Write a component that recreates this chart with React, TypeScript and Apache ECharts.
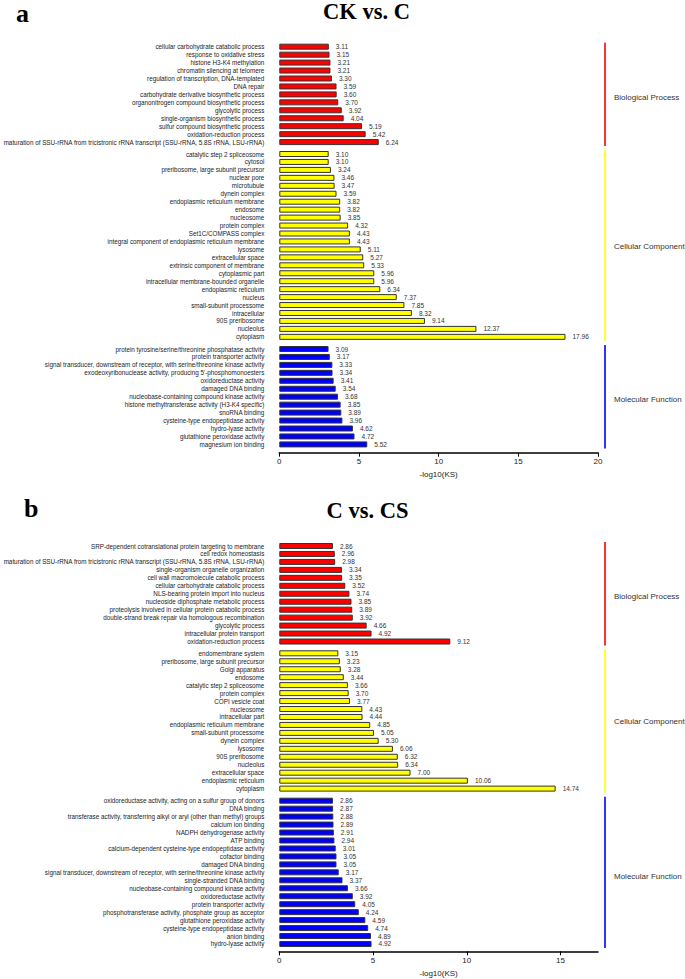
import React, { useEffect, useRef } from 'react';
import * as echarts from 'echarts';

// ---------- Panel a: CK vs. C ----------
const aBPNames = [
  'cellular carbohydrate catabolic process',
  'response to oxidative stress',
  'histone H3-K4 methylation',
  'chromatin silencing at telomere',
  'regulation of transcription, DNA-templated',
  'DNA repair',
  'carbohydrate derivative biosynthetic process',
  'organonitrogen compound biosynthetic process',
  'glycolytic process',
  'single-organism biosynthetic process',
  'sulfur compound biosynthetic process',
  'oxidation-reduction process',
  'maturation of SSU-rRNA from tricistronic rRNA transcript (SSU-rRNA, 5.8S rRNA, LSU-rRNA)',
];
const aBPValues = [3.11, 3.15, 3.21, 3.21, 3.3, 3.59, 3.6, 3.7, 3.92, 4.04, 5.19, 5.42, 6.24];

const aCCNames = [
  'catalytic step 2 spliceosome',
  'cytosol',
  'preribosome, large subunit precursor',
  'nuclear pore',
  'microtubule',
  'dynein complex',
  'endoplasmic reticulum membrane',
  'endosome',
  'nucleosome',
  'protein complex',
  'Set1C/COMPASS complex',
  'integral component of endoplasmic reticulum membrane',
  'lysosome',
  'extracellular space',
  'extrinsic component of membrane',
  'cytoplasmic part',
  'intracellular membrane-bounded organelle',
  'endoplasmic reticulum',
  'nucleus',
  'small-subunit processome',
  'intracellular',
  '90S preribosome',
  'nucleolus',
  'cytoplasm',
];
const aCCValues = [3.1, 3.1, 3.24, 3.46, 3.47, 3.59, 3.82, 3.82, 3.85, 4.32, 4.43, 4.43, 5.11, 5.27, 5.33, 5.96, 5.96, 6.34, 7.37, 7.85, 8.32, 9.14, 12.37, 17.96];

const aMFNames = [
  'protein tyrosine/serine/threonine phosphatase activity',
  'protein transporter activity',
  'signal transducer, downstream of receptor, with serine/threonine kinase activity',
  "exodeoxyribonuclease activity, producing 5'-phosphomonoesters",
  'oxidoreductase activity',
  'damaged DNA binding',
  'nucleobase-containing compound kinase activity',
  'histone methyltransferase activity (H3-K4 specific)',
  'snoRNA binding',
  'cysteine-type endopeptidase activity',
  'hydro-lyase activity',
  'glutathione peroxidase activity',
  'magnesium ion binding',
];
const aMFValues = [3.09, 3.17, 3.33, 3.34, 3.41, 3.54, 3.68, 3.85, 3.89, 3.96, 4.62, 4.72, 5.52];

// ---------- Panel b: C vs. CS ----------
const bBPNames = [
  'SRP-dependent cotranslational protein targeting to membrane',
  'cell redox homeostasis',
  'maturation of SSU-rRNA from tricistronic rRNA transcript (SSU-rRNA, 5.8S rRNA, LSU-rRNA)',
  'single-organism organelle organization',
  'cell wall macromolecule catabolic process',
  'cellular carbohydrate catabolic process',
  'NLS-bearing protein import into nucleus',
  'nucleoside diphosphate metabolic process',
  'proteolysis involved in cellular protein catabolic process',
  'double-strand break repair via homologous recombination',
  'glycolytic process',
  'intracellular protein transport',
  'oxidation-reduction process',
];
const bBPValues = [2.86, 2.96, 2.98, 3.34, 3.35, 3.52, 3.74, 3.85, 3.89, 3.92, 4.66, 4.92, 9.12];

const bCCNames = [
  'endomembrane system',
  'preribosome, large subunit precursor',
  'Golgi apparatus',
  'endosome',
  'catalytic step 2 spliceosome',
  'protein complex',
  'COPI vesicle coat',
  'nucleosome',
  'intracellular part',
  'endoplasmic reticulum membrane',
  'small-subunit processome',
  'dynein complex',
  'lysosome',
  '90S preribosome',
  'nucleolus',
  'extracellular space',
  'endoplasmic reticulum',
  'cytoplasm',
];
const bCCValues = [3.15, 3.23, 3.28, 3.44, 3.66, 3.7, 3.77, 4.43, 4.44, 4.85, 5.05, 5.3, 6.06, 6.32, 6.34, 7.0, 10.06, 14.74];

const bMFNames = [
  'oxidoreductase activity, acting on a sulfur group of donors',
  'DNA binding',
  'transferase activity, transferring alkyl or aryl (other than methyl) groups',
  'calcium ion binding',
  'NADPH dehydrogenase activity',
  'ATP binding',
  'calcium-dependent cysteine-type endopeptidase activity',
  'cofactor binding',
  'damaged DNA binding',
  'signal transducer, downstream of receptor, with serine/threonine kinase activity',
  'single-stranded DNA binding',
  'nucleobase-containing compound kinase activity',
  'oxidoreductase activity',
  'protein transporter activity',
  'phosphotransferase activity, phosphate group as acceptor',
  'glutathione peroxidase activity',
  'cysteine-type endopeptidase activity',
  'anion binding',
  'hydro-lyase activity',
];
const bMFValues = [2.86, 2.87, 2.88, 2.89, 2.91, 2.94, 3.01, 3.05, 3.05, 3.17, 3.37, 3.66, 3.92, 4.05, 4.24, 4.59, 4.74, 4.89, 4.92];

const groupLabels = ['Biological Process', 'Cellular Component', 'Molecular Function'];
const xTicks = [0, 5, 10, 15, 20];
const axisName = '-log10(KS)';
const titles = ['CK vs. C', 'C vs. CS'];
const panelLetters = ['a', 'b'];

const BAR_COLORS = ['#FF0000', '#FFFF00', '#0000FF'];
const LINE_COLORS = ['#FF3333', '#FFFF33', '#3333FF'];

const SANS = 'Liberation Sans, Arial, sans-serif';
const SERIF = 'Liberation Serif, Times New Roman, serif';

const GRID_LEFT = 279.3;
const GRID_WIDTH = 318.7;
const LINE_X = 605;
const LABEL_X = 614;

type Group = { names: string[]; values: number[]; top: number; height: number; labelY: number };

function buildPanel(groups: Group[], max: number, axisOffset: number, gridStart: number, option: any) {
  groups.forEach((g, i) => {
    const idx = gridStart + i;
    const isBottom = i === groups.length - 1;
    option.grid.push({
      left: GRID_LEFT,
      top: g.top,
      height: g.height,
      width: GRID_WIDTH,
      containLabel: false,
      outerBoundsMode: 'none',
    });
    const ticks = xTicks.filter((t) => t <= max);
    option.xAxis.push({
      type: 'value',
      gridIndex: idx,
      min: 0,
      max,
      interval: 5,
      show: isBottom,
      offset: axisOffset,
      name: isBottom ? axisName : '',
      nameLocation: 'middle',
      nameGap: 18,
      nameTextStyle: { fontSize: 8, color: '#222', fontFamily: SANS },
      axisLine: { show: true, lineStyle: { color: '#000', width: 1.6 } },
      axisTick: { show: true, length: 4, lineStyle: { color: '#000', width: 1 }, customValues: ticks },
      axisLabel: {
        fontSize: 8,
        color: '#222',
        fontFamily: SANS,
        margin: 5,
        customValues: ticks,
        formatter: (v: number) => (v % 5 === 0 ? String(v) : ''),
      },
      splitLine: { show: false },
    });
    option.yAxis.push({
      type: 'category',
      gridIndex: idx,
      data: g.names,
      inverse: true,
      axisLine: { show: false },
      axisTick: { show: false },
      axisLabel: { interval: 0, fontSize: 6.3, color: '#222', fontFamily: SANS, margin: 15 },
    });
    option.series.push({
      type: 'bar',
      xAxisIndex: idx,
      yAxisIndex: idx,
      data: g.values,
      barWidth: 6,
      itemStyle: { color: BAR_COLORS[i], borderColor: '#333', borderWidth: 1 },
      label: {
        show: true,
        position: 'right',
        distance: 7,
        fontSize: 6.5,
        color: '#333',
        fontFamily: SANS,
        formatter: (p: any) => Number(p.value).toFixed(2),
      },
    });
    option.graphic.push({
      type: 'line',
      shape: { x1: LINE_X, y1: g.top, x2: LINE_X, y2: g.top + g.height },
      style: { stroke: LINE_COLORS[i], lineWidth: 2 },
    });
    option.graphic.push({
      type: 'text',
      x: LABEL_X,
      y: g.labelY,
      style: { text: groupLabels[i], fontSize: 8, fill: '#333', fontFamily: SANS, verticalAlign: 'middle' },
    });
  });
}

export default function App() {
  const ref = useRef<HTMLDivElement>(null);
  useEffect(() => {
    if (!ref.current) return;
    const chart = echarts.init(ref.current, undefined, { renderer: 'svg' });
    const option: any = {
      animation: false,
      backgroundColor: '#fff',
      grid: [],
      xAxis: [],
      yAxis: [],
      series: [],
      graphic: [],
    };
    const s = 7.95;
    buildPanel(
      [
        { names: aBPNames, values: aBPValues, top: 46.7 - s / 2, height: aBPNames.length * s, labelY: 97 },
        { names: aCCNames, values: aCCValues, top: 154 - s / 2, height: aCCNames.length * s, labelY: 246 },
        { names: aMFNames, values: aMFValues, top: 349 - s / 2, height: aMFNames.length * s, labelY: 399 },
      ],
      20,
      4.3,
      0,
      option
    );
    const t = 7.96;
    buildPanel(
      [
        { names: bBPNames, values: bBPValues, top: 546 - t / 2, height: bBPNames.length * t, labelY: 596 },
        { names: bCCNames, values: bCCValues, top: 653.3 - t / 2, height: bCCNames.length * t, labelY: 721 },
        { names: bMFNames, values: bMFValues, top: 800.7 - t / 2, height: bMFNames.length * t, labelY: 876 },
      ],
      17,
      3.4,
      3,
      option
    );
    option.graphic.push(
      {
        type: 'text',
        x: 16,
        y: 13,
        style: { text: panelLetters[0], fontSize: 26, lineHeight: 20, fontWeight: 'bold', fill: '#000', fontFamily: SERIF, verticalAlign: 'middle' },
      },
      {
        type: 'text',
        x: 24,
        y: 508,
        style: { text: panelLetters[1], fontSize: 26, lineHeight: 20, fontWeight: 'bold', fill: '#000', fontFamily: SERIF, verticalAlign: 'middle' },
      },
      {
        type: 'text',
        x: 366.5,
        y: 11.5,
        style: { text: titles[0], fontSize: 22.5, lineHeight: 20, fontWeight: 'bold', fill: '#000', fontFamily: SERIF, align: 'center', verticalAlign: 'middle' },
      },
      {
        type: 'text',
        x: 367.5,
        y: 510,
        style: { text: titles[1], fontSize: 22.5, lineHeight: 20, fontWeight: 'bold', fill: '#000', fontFamily: SERIF, align: 'center', verticalAlign: 'middle' },
      }
    );
    chart.setOption(option);
    return () => chart.dispose();
  }, []);
  return <div ref={ref} style={{ position: 'absolute', left: 0, top: 0, width: 685, height: 979 }} />;
}
